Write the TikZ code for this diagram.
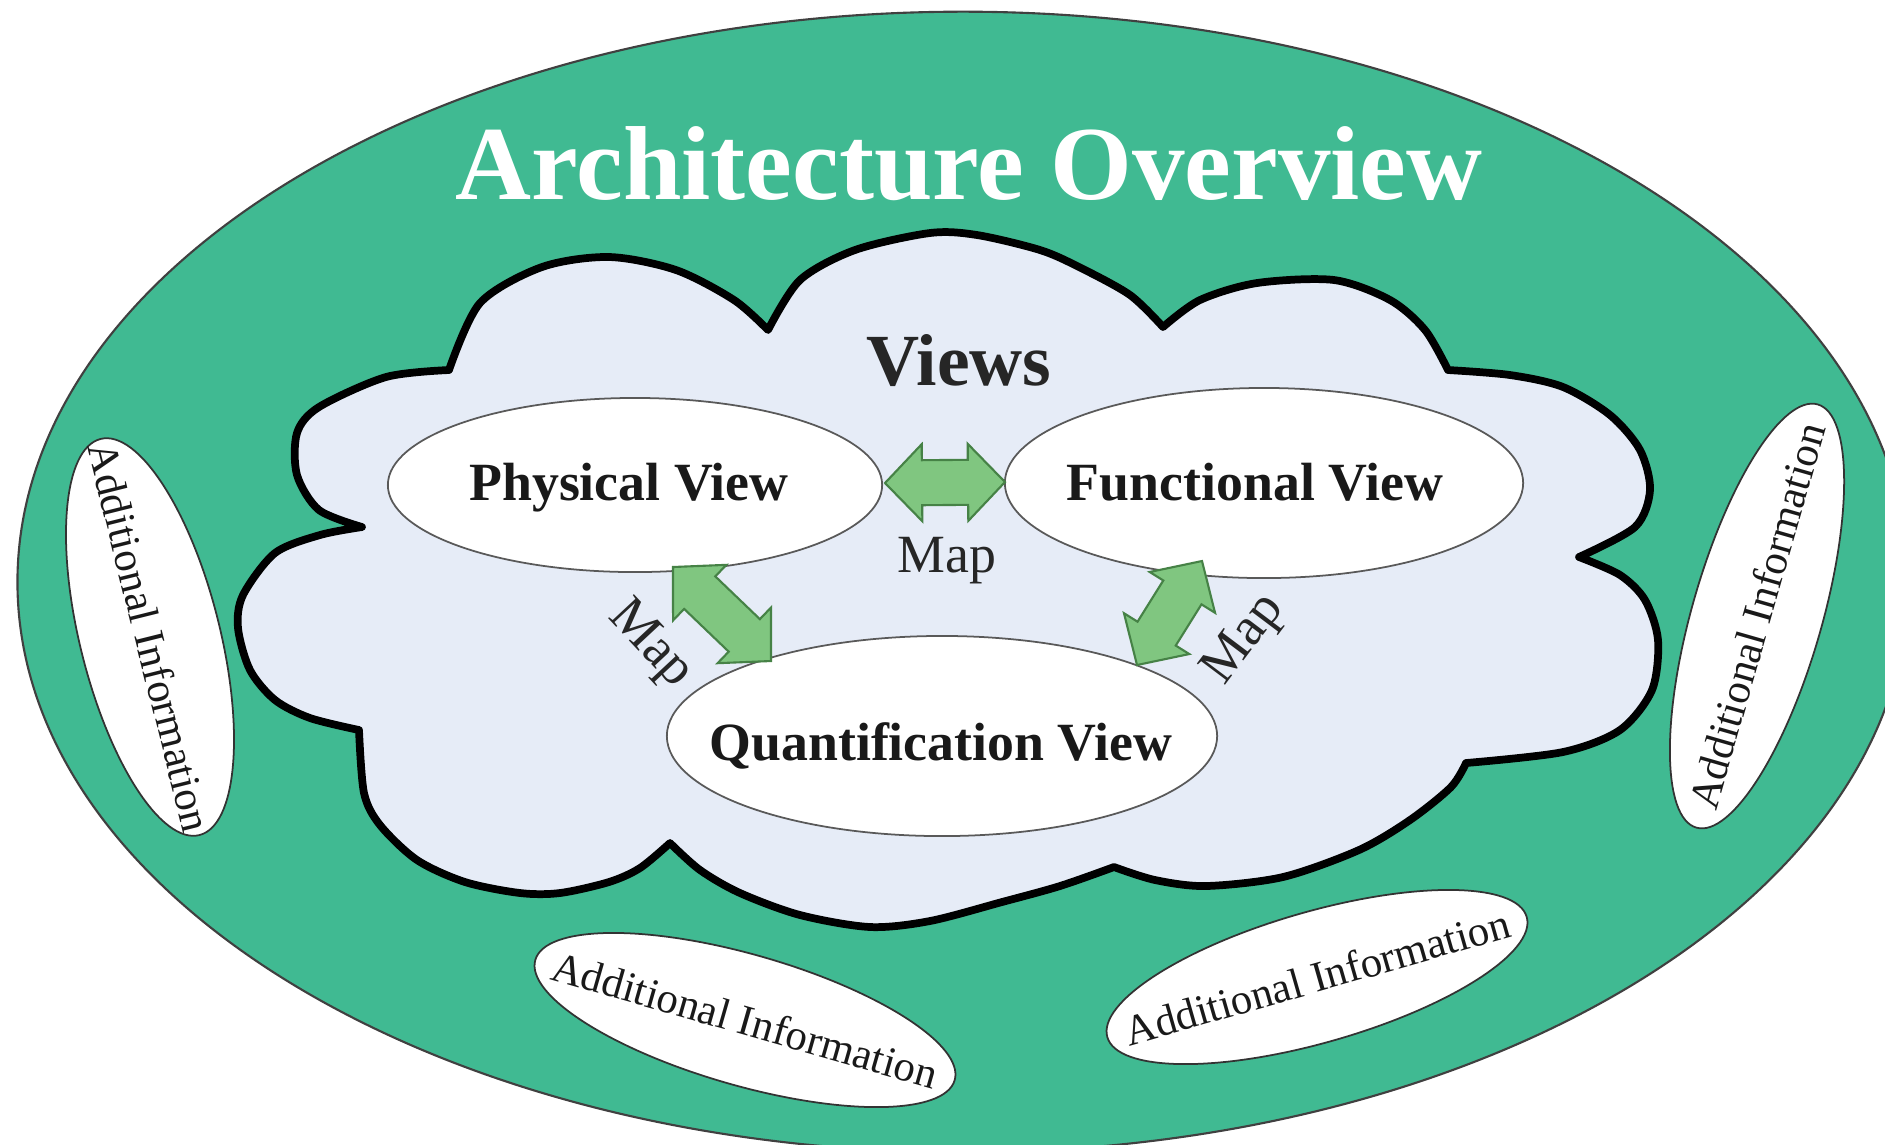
\documentclass[tikz,border=0pt]{standalone}
\usepackage{fontspec}
\setmainfont{Liberation Serif}
\usetikzlibrary{shapes.geometric,calc}
\definecolor{outergreen}{RGB}{64,186,146}
\definecolor{cloudfill}{RGB}{230,236,247}
\definecolor{arrowfill}{RGB}{128,198,128}
\definecolor{arrowline}{RGB}{70,130,70}
\newcommand\drawmaparrow[2]{%
  \path[maparrow] (#1)
    -- ($(#1)!0.37cm!(#2)!0.385cm!90:(#2)$)
    -- ($(#1)!0.37cm!(#2)!0.225cm!90:(#2)$)
    -- ($(#2)!0.37cm!(#1)!0.225cm!-90:(#1)$)
    -- ($(#2)!0.37cm!(#1)!0.385cm!-90:(#1)$)
    -- (#2)
    -- ($(#2)!0.37cm!(#1)!0.385cm!90:(#1)$)
    -- ($(#2)!0.37cm!(#1)!0.225cm!90:(#1)$)
    -- ($(#1)!0.37cm!(#2)!0.225cm!-90:(#2)$)
    -- ($(#1)!0.37cm!(#2)!0.385cm!-90:(#2)$)
    -- cycle;}
\begin{document}
\begin{tikzpicture}[x=0.01cm,y=-0.01cm,
  viewell/.style={ellipse, draw=black!65, line width=0.5pt, fill=white, inner sep=0pt},
  viewtext/.style={font=\fontsize{15.3}{17}\selectfont\bfseries, text=black!90, inner sep=0pt},
  infoell/.style={ellipse, draw=black!80, line width=0.5pt, fill=white, inner sep=0pt},
  infotext/.style={font=\fontsize{12.2}{14}\selectfont, text=black!90, inner sep=0pt},
  maplabel/.style={font=\fontsize{15.3}{17}\selectfont, text=black!85, inner sep=0pt},
  maparrow/.style={fill=arrowfill, draw=arrowline, line width=0.6pt, line join=miter},
  cloudstyle/.style={fill=cloudfill, draw=black, line width=2.2pt, line join=round},
]
\useasboundingbox (0,0) rectangle (1885,1144);
\fill[white] (0,0) rectangle (1885,1144);
\begin{scope}
\clip (0,0) rectangle (1885,1144);
\node[ellipse, draw=black!75, line width=0.6pt, fill=outergreen, inner sep=0pt,
  minimum width=18.9cm, minimum height=11.4cm] (overview) at (963,582) {};
\end{scope}

% cloud
\path[cloudstyle] (449,370)
 -- plot[smooth] coordinates {(449,370) (480,303) (542,267) (609,257) (676,270) (734,300) (768,330)}
 -- plot[smooth] coordinates {(768,330) (800,280) (855,250) (930,233) (977,235) (1040,250) (1079,267) (1130,295) (1163,327)}
 -- plot[smooth] coordinates {(1163,327) (1200,300) (1257,283) (1334,280) (1390,300) (1425,330) (1448,370)}
 -- plot[smooth] coordinates {(1448,370) (1510,375) (1563,387) (1610,415) (1640,450) (1650,490) (1635,527) (1579,557)}
 -- plot[smooth] coordinates {(1579,557) (1620,575) (1645,600) (1658,640) (1652,690) (1620,730) (1563,752) (1466,763)}
 -- plot[smooth] coordinates {(1466,763) (1451,787) (1410,820) (1359,850) (1283,877) (1206,886) (1155,880) (1114,867)}
 -- plot[smooth] coordinates {(1114,867) (1060,886) (1002,902) (930,921) (870,927) (800,915) (740,893) (700,870) (670,843)}
 -- plot[smooth] coordinates {(670,843) (640,868) (609,882) (560,893) (520,893) (465,882) (417,860) (380,825) (364,793) (359,730)}
 -- plot[smooth] coordinates {(359,730) (310,718) (275,700) (250,670) (238,628) (243,595) (275,553) (320,535) (362,527)}
 -- plot[smooth] coordinates {(362,527) (319,510) (297,475) (297,433) (319,407) (386,377) (449,370)}
 -- cycle;

\node[font=\fontsize{29.9}{32}\selectfont\bfseries, text=white, anchor=base] (title) at (969,199) {Architecture Overview};
\node[font=\fontsize{20.9}{23}\selectfont\bfseries, text=black!85, anchor=base] (views) at (959,385) {Views};

\node[viewell, minimum width=4.94cm, minimum height=1.74cm] (phys) at (635,485) {};
\node[viewell, minimum width=5.18cm, minimum height=1.90cm] (func) at (1264,483) {};
\node[viewell, minimum width=5.50cm, minimum height=2.00cm] (quant) at (942,736) {};
\node[viewtext, anchor=base] (physT) at (629,500) {Physical View};
\node[viewtext, anchor=base] (funcT) at (1255,500) {Functional View};
\node[viewtext, anchor=base] (quantT) at (941,760) {Quantification View};

\coordinate (pf1) at (885,483);
\coordinate (pf2) at (1005,482);
\coordinate (pq1) at (673,567);
\coordinate (pq2) at (771,661);
\coordinate (fq1) at (1202,561);
\coordinate (fq2) at (1137,665);
\drawmaparrow{pf1}{pf2}
\drawmaparrow{pq1}{pq2}
\drawmaparrow{fq1}{fq2}

\node[maplabel, anchor=base] (mapPF) at (947,572) {Map};
\node[maplabel, rotate=-47] (mapPQ) at (650,645) {Map};
\node[maplabel, rotate=53] (mapFQ) at (1245,640) {Map};

\node[infoell, minimum width=4.08cm, minimum height=1.40cm, rotate=-76] (infoL) at (150,637) {};
\node[infoell, minimum width=4.40cm, minimum height=1.30cm, rotate=74] (infoR) at (1757,616) {};
\node[infoell, minimum width=4.36cm, minimum height=1.31cm, rotate=-16] (infoBL) at (745,1020) {};
\node[infoell, minimum width=4.36cm, minimum height=1.31cm, rotate=16] (infoBR) at (1317,977) {};
\node[infotext, rotate=-76] (infoLT) at (infoL) {Additional Information};
\node[infotext, rotate=74] (infoRT) at (infoR) {Additional Information};
\node[infotext, rotate=-16] (infoBLT) at (infoBL) {Additional Information};
\node[infotext, rotate=16] (infoBRT) at (infoBR) {Additional Information};
\end{tikzpicture}
\end{document}
